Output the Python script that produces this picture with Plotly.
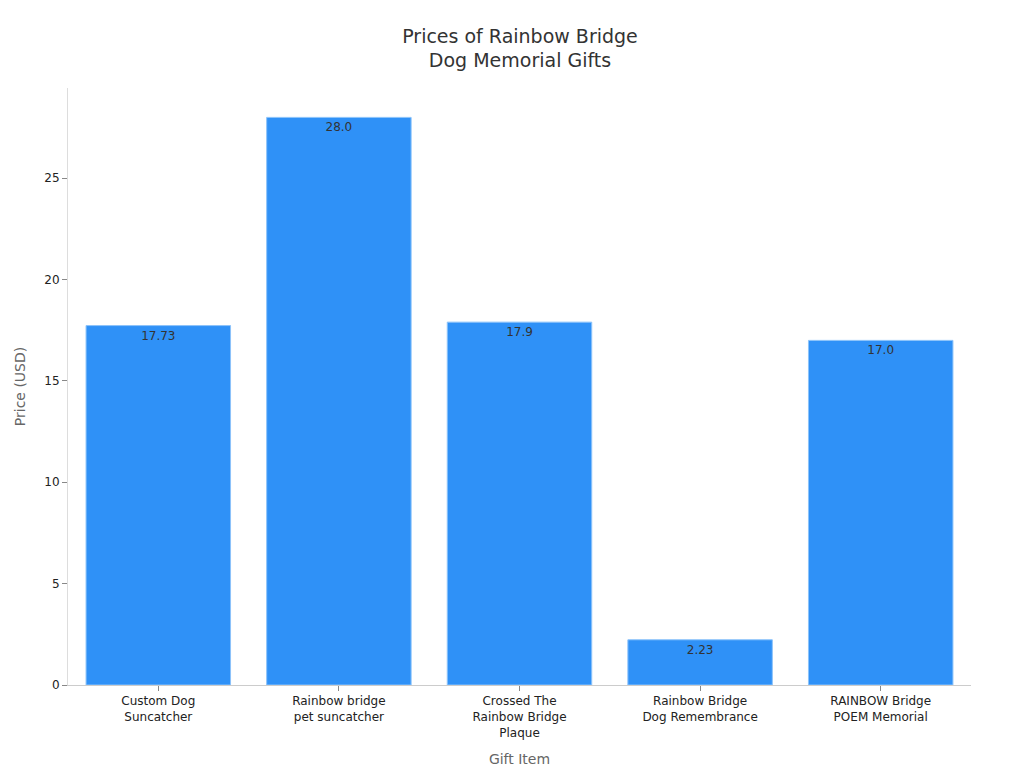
import plotly.graph_objects as go

categories = ["Custom Dog<br>Suncatcher", "Rainbow bridge<br>pet suncatcher",
              "Crossed The<br>Rainbow Bridge<br>Plaque", "Rainbow Bridge<br>Dog Remembrance",
              "RAINBOW Bridge<br>POEM Memorial"]
prices = [17.73, 28.0, 17.9, 2.23, 17.0]
labels = ["17.73", "28.0", "17.9", "2.23", "17.0"]

fig = go.Figure(go.Bar(
    x=categories, y=prices, text=labels, textposition="inside", insidetextanchor="end",
    textfont=dict(color="#333333", size=12),
    marker=dict(color="#2F91F7", line=dict(color="#8CC3FA", width=1)),
    width=0.8,
))
fig.update_layout(
    width=1024, height=768,
    font=dict(family="DejaVu Sans", color="#222222", size=12),
    title=dict(text="Prices of Rainbow Bridge<br>Dog Memorial Gifts", x=0.5, xanchor="center",
               y=0.955, font=dict(size=19, color="#333333")),
    plot_bgcolor="white", paper_bgcolor="white",
    margin=dict(l=60, r=61, t=80, b=91),
    showlegend=False,
    xaxis=dict(title=dict(text="Gift Item", font=dict(size=14, color="#666666")),
               showline=True, linecolor="#cccccc", ticks="outside", ticklen=5,
               tickcolor="#888888", showgrid=False),
    yaxis=dict(title=dict(text="Price (USD)", font=dict(size=14, color="#666666")),
               range=[0, 29.45], showline=True, linecolor="#dddddd", ticks="outside",
               ticklen=5, tickcolor="#888888", showgrid=False, zeroline=False,
               dtick=5),
)
fig.write_html("out.html")
